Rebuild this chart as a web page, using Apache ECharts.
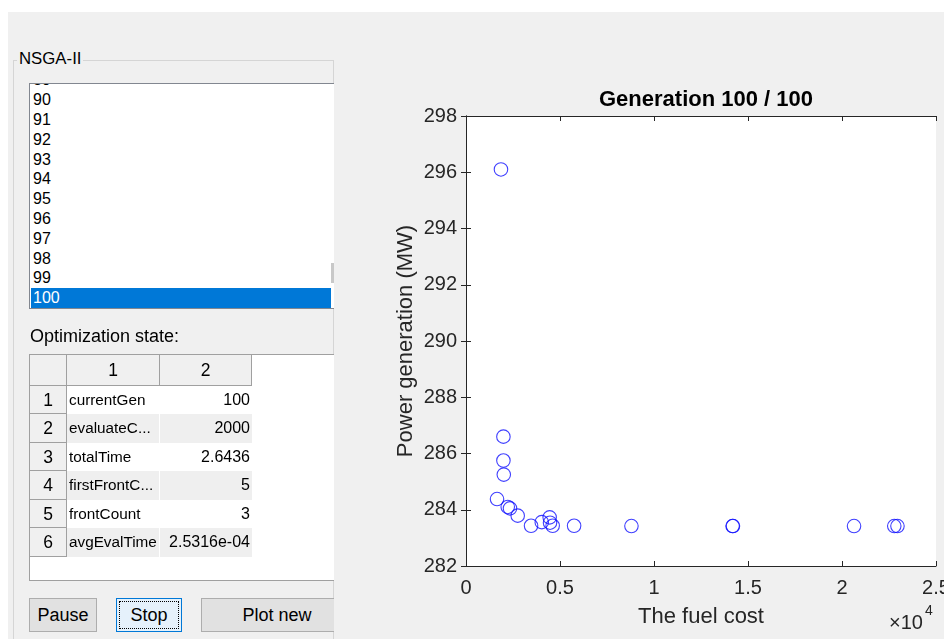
<!DOCTYPE html>
<html>
<head>
<meta charset="utf-8">
<script src="https://cdn.jsdelivr.net/npm/echarts@6/dist/echarts.min.js"></script>
<style>
  html,body{margin:0;padding:0;background:#fff;width:944px;height:639px;overflow:hidden;font-family:"Liberation Sans",Arial,sans-serif;}
  .abs{position:absolute;box-sizing:border-box;}
  #panel{position:absolute;left:0;top:0;width:334px;height:639px;overflow:hidden;z-index:5;}
  .item{position:absolute;left:1px;width:300px;height:19.8px;line-height:19.8px;font-size:16px;padding-left:2px;color:#000;box-sizing:border-box;}
  .item.sel{background:#0078d7;color:#fff;}
  .cell{position:absolute;box-sizing:border-box;font-size:15.3px;color:#000;white-space:nowrap;overflow:hidden;}
  .btn{position:absolute;box-sizing:border-box;font-size:18px;color:#000;text-align:center;}
</style>
</head>
<body>
<div class="abs" style="left:8px;top:12px;width:936px;height:627px;background:#f0f0f0;"></div>
<div id="chart" class="abs" style="left:0;top:0;width:944px;height:639px;z-index:2;"></div>
<div id="panel">
  <div class="abs" style="left:13px;top:60px;width:321px;height:620px;border:1px solid #d5d5d5;"></div>
  <div class="abs" style="left:17px;top:49px;padding:0 2px;background:#f0f0f0;font-size:16.8px;line-height:20px;color:#000;">NSGA-II</div>
  <div id="list" class="abs" style="left:29px;top:83px;width:320px;height:226px;border:1px solid #828790;background:#fff;overflow:hidden;"></div>
  <div class="abs" style="left:331px;top:263px;width:3px;height:20px;background:#c8c8c8;"></div>
  <div class="abs" style="left:30px;top:325px;font-size:18px;line-height:22px;color:#000;">Optimization state:</div>
  <div id="table" class="abs" style="left:29px;top:354px;width:320px;height:227px;border:1px solid #a0a0a0;background:#fff;overflow:hidden;"></div>
  <div class="btn" style="left:29px;top:598px;width:68px;height:34px;line-height:32px;background:#e1e1e1;border:1px solid #adadad;">Pause</div>
  <div class="btn" style="left:116px;top:598px;width:66px;height:34px;line-height:32px;background:#e5f1fb;border:1px solid #0078d7;">
    <div class="abs" style="left:2px;top:2px;right:2px;bottom:2px;border:1px dotted #000;"></div>Stop</div>
  <div class="btn" style="left:201px;top:598px;width:152px;height:34px;line-height:32px;background:#e1e1e1;border:1px solid #adadad;">Plot new</div>
</div>
<script>
// ---------- data ----------
const fuelCost = [1860, 1990, 1990, 2010, 1650, 2220, 2340, 2750, 3460, 4030, 4450, 4470, 4610, 5750, 8800, 14180, 14200, 20640, 22780, 22950];
const powerGen = [296.1, 286.6, 285.75, 285.25, 284.38, 284.1, 284.05, 283.79, 283.43, 283.56, 283.73, 283.54, 283.43, 283.43, 283.42, 283.42, 283.42, 283.42, 283.42, 283.42];
const xTickLabels = ['0', '0.5', '1', '1.5', '2', '2.5'];
const yTickLabels = ['282', '284', '286', '288', '290', '292', '294', '296', '298'];
const generations = [89, 90, 91, 92, 93, 94, 95, 96, 97, 98, 99, 100];
const selectedGen = 100;
const stateNames = ['currentGen', 'evaluateC...', 'totalTime', 'firstFrontC...', 'frontCount', 'avgEvalTime'];
const stateValues = ['100', '2000', '2.6436', '5', '3', '2.5316e-04'];
const tableHeaders = ['1', '2'];

// ---------- list box ----------
const list = document.getElementById('list');
generations.forEach((g, i) => {
  const d = document.createElement('div');
  d.className = 'item' + (g === selectedGen ? ' sel' : '');
  d.style.top = (6.1 + (i - 1) * 19.8) + 'px';
  d.textContent = String(g);
  list.appendChild(d);
});

// ---------- table ----------
const table = document.getElementById('table');
function cell(l, t, w, h, text, style) {
  const c = document.createElement('div');
  c.className = 'cell';
  c.style.left = l + 'px'; c.style.top = t + 'px'; c.style.width = w + 'px'; c.style.height = h + 'px';
  Object.assign(c.style, style || {});
  c.textContent = text;
  table.appendChild(c);
}
const hdrH = 31, rowH = 28.45, c0 = 37, c1 = 93, c2 = 92;
cell(0, 0, c0, hdrH, '', {background:'#f0f0f0', borderRight:'1px solid #a0a0a0', borderBottom:'1px solid #a0a0a0'});
tableHeaders.forEach((h, j) => {
  cell(c0 + j * c1, 0, j === 0 ? c1 : c2, hdrH, h, {background:'#f0f0f0', borderRight:'1px solid #a0a0a0', borderBottom:'1px solid #a0a0a0', textAlign:'center', lineHeight:(hdrH - 1) + 'px', fontSize:'17.5px'});
});
stateNames.forEach((n, i) => {
  const top = hdrH + i * rowH;
  const bg = i % 2 === 1 ? '#efefef' : '#fff';
  cell(0, top, c0, rowH, String(i + 1), {background:'#f0f0f0', borderRight:'1px solid #a0a0a0', borderBottom:'1px solid #a0a0a0', textAlign:'center', lineHeight:(rowH) + 'px', fontSize:'17.5px'});
  cell(c0, top, c1 - 1, rowH, n, {background:bg, lineHeight:rowH + 'px', paddingLeft:'2px'});
  cell(c0 + c1, top, c2, rowH, stateValues[i], {background:bg, lineHeight:rowH + 'px', textAlign:'right', paddingRight:'2px', fontSize:'16px'});
});

// ---------- chart ----------
const chart = echarts.init(document.getElementById('chart'), null, {renderer:'canvas'});
const axisColor = '#262626';
const font = 'Liberation Sans';
const baseX = {
  type:'value', min:0, max:25000, interval:5000,
  axisLine:{show:true, lineStyle:{color:axisColor, width:1}},
  axisTick:{show:true, inside:true, length:5, lineStyle:{color:axisColor}},
  splitLine:{show:false}
};
const baseY = {
  type:'value', min:282, max:298, interval:2,
  axisLine:{show:true, lineStyle:{color:axisColor, width:1}},
  axisTick:{show:true, inside:true, length:5, lineStyle:{color:axisColor}},
  splitLine:{show:false}
};
chart.setOption({
  animation:false,
  backgroundColor:'transparent',
  title:{
    text:'Generation 100 / 100', left:701, top:84, textAlign:'center',
    textStyle:{fontFamily:font, fontWeight:'bold', fontSize:22, color:'#000'}
  },
  grid:{left:466, right:8, top:116, bottom:73, show:true, backgroundColor:'#fff', borderWidth:0,
        containLabel:false, outerBoundsMode:'none'},
  xAxis:[
    Object.assign({}, baseX, {
      position:'bottom',
      axisLabel:{show:true, margin:12, fontFamily:font, fontSize:20, color:axisColor,
        hideOverlap:false, showMinLabel:true, showMaxLabel:true,
        formatter:(v) => xTickLabels[Math.round(v / 5000)]},
      name:'The fuel cost', nameLocation:'middle', nameGap:40,
      nameTextStyle:{fontFamily:font, fontSize:22, color:axisColor}
    }),
    Object.assign({}, baseX, {position:'top', axisLabel:{show:false}})
  ],
  yAxis:[
    Object.assign({}, baseY, {
      position:'left',
      axisLabel:{show:true, margin:9, fontFamily:font, fontSize:20, color:axisColor,
        showMinLabel:true, showMaxLabel:true,
        formatter:(v) => yTickLabels[Math.round((v - 282) / 2)]},
      name:'Power generation (MW)', nameLocation:'middle', nameGap:49, nameRotate:90,
      nameTextStyle:{fontFamily:font, fontSize:22, color:axisColor}
    }),
    Object.assign({}, baseY, {position:'right', axisLabel:{show:false}})
  ],
  graphic:[
    {type:'text', left:889, top:613, style:{text:'×10', fontFamily:font, fontSize:20, fill:axisColor}},
    {type:'text', left:925, top:604, style:{text:'4', fontFamily:font, fontSize:14, fill:axisColor}}
  ],
  series:[{
    type:'scatter',
    xAxisIndex:0, yAxisIndex:0,
    data:fuelCost.map((x, i) => [x, powerGen[i]]),
    symbol:'circle', symbolSize:13.5,
    itemStyle:{color:'rgba(0,0,0,0)', borderColor:'#1010ff', borderWidth:1.1},
    emphasis:{disabled:true}
  }]
});
</script>
</body>
</html>
